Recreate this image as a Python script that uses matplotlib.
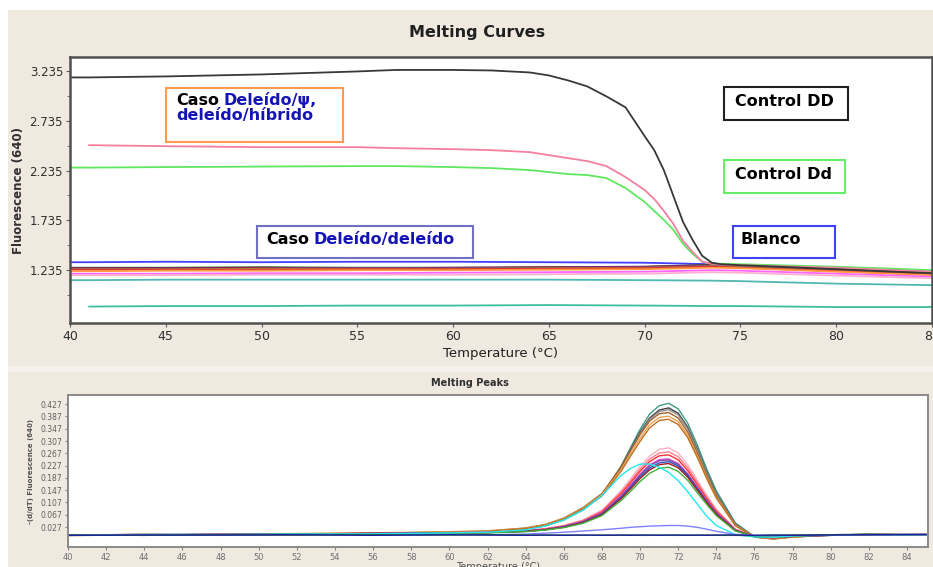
import numpy as np
import matplotlib
matplotlib.use("Agg")
import matplotlib.pyplot as plt
from matplotlib.patches import Rectangle
from matplotlib.offsetbox import TextArea, HPacker, VPacker, AnnotationBbox
from matplotlib.ticker import FixedLocator, MultipleLocator

W, H = 933, 567

# ---- Melting curves (top) ----
t_curve = [40, 41, 45, 50, 55, 57, 60, 62, 64, 65, 66, 67, 68, 69, 70, 70.5,
           71, 71.5, 72, 72.5, 73, 73.5, 74, 75, 77, 80, 83, 85]
ctrl_dd = [3.17, 3.17, 3.18, 3.20, 3.23, 3.245, 3.245, 3.24, 3.22, 3.19, 3.14, 3.08,
           2.98, 2.87, 2.58, 2.44, 2.24, 1.98, 1.72, 1.54, 1.38, 1.31, 1.295, 1.285,
           1.27, 1.245, 1.22, 1.205]
caso_hib = [np.nan, 2.49, 2.48, 2.47, 2.47, 2.46, 2.45, 2.44, 2.42, 2.39, 2.36, 2.33,
            2.28, 2.17, 2.04, 1.95, 1.83, 1.70, 1.53, 1.42, 1.32, 1.30, 1.29, 1.285,
            1.275, 1.26, 1.235, 1.22]
ctrl_dd_het = [2.265, 2.265, 2.27, 2.275, 2.28, 2.28, 2.27, 2.26, 2.24, 2.22, 2.20,
               2.19, 2.16, 2.06, 1.92, 1.83, 1.74, 1.64, 1.50, 1.40, 1.32, 1.30, 1.30,
               1.295, 1.285, 1.27, 1.25, 1.235]

t_flat = [40, 41, 45, 50, 55, 60, 65, 70, 73.5, 75, 80, 85]
flat_curves = {
    '#4040ff': [1.315, 1.315, 1.32, 1.315, 1.32, 1.32, 1.315, 1.31, 1.295, 1.285, 1.25, 1.23],
    '#2e6b2e': [1.26, 1.26, 1.26, 1.265, 1.26, 1.26, 1.265, 1.27, 1.29, 1.28, 1.245, 1.215],
    '#8b1a4a': [1.255, 1.255, 1.255, 1.26, 1.255, 1.26, 1.265, 1.27, 1.285, 1.275, 1.24, 1.205],
    '#7030a0': [1.25, 1.25, 1.25, 1.25, 1.255, 1.255, 1.26, 1.265, 1.28, 1.27, 1.235, 1.20],
    '#a08a30': [1.245, 1.245, 1.245, 1.25, 1.25, 1.25, 1.255, 1.26, 1.275, 1.265, 1.23, 1.195],
    '#e03030': [1.24, 1.24, 1.24, 1.24, 1.245, 1.245, 1.25, 1.255, 1.27, 1.26, 1.225, 1.19],
    '#ff9a40': [1.225, 1.225, 1.23, 1.23, 1.235, 1.235, 1.24, 1.245, 1.26, 1.255, 1.22, 1.185],
    '#ff66ff': [1.20, 1.20, 1.20, 1.205, 1.205, 1.21, 1.215, 1.22, 1.235, 1.23, 1.20, 1.17],
    '#ffb0d0': [1.185, 1.185, 1.185, 1.19, 1.19, 1.19, 1.195, 1.20, 1.215, 1.21, 1.18, 1.155],
    '#50b8b0': [1.135, 1.135, 1.14, 1.14, 1.14, 1.14, 1.14, 1.135, 1.13, 1.125, 1.10, 1.085],
    '#3cbf9e': [np.nan, 0.87, 0.875, 0.875, 0.88, 0.88, 0.885, 0.88, 0.875, 0.875, 0.865, 0.865],
}
curve_yticks = [1.235, 1.735, 2.235, 2.735, 3.235]

# ---- Melting peaks (bottom) ----
t_peak = [40, 44, 48, 52, 56, 60, 62, 64, 65, 66, 67, 68, 69, 69.5, 70, 70.5, 71,
          71.5, 72, 72.5, 73, 73.5, 74, 75, 76, 77, 78, 80, 82, 85]
peak_curves = {
    '#3c9c84': [0.000, 0.002, 0.004, 0.003, 0.006, 0.009, 0.012, 0.020, 0.030, 0.050, 0.082, 0.130, 0.225, 0.285, 0.345, 0.395, 0.422, 0.430, 0.412, 0.365, 0.295, 0.215, 0.145, 0.040, -0.004, -0.010, -0.004, 0.001, 0.003, 0.002],
    '#404040': [0.001, 0.001, 0.003, 0.005, 0.004, 0.010, 0.013, 0.022, 0.032, 0.052, 0.085, 0.132, 0.222, 0.280, 0.336, 0.382, 0.408, 0.415, 0.398, 0.352, 0.282, 0.205, 0.136, 0.036, -0.005, -0.011, -0.005, 0.000, 0.004, 0.001],
    '#909090': [0.002, 0.000, 0.002, 0.004, 0.006, 0.009, 0.012, 0.021, 0.031, 0.051, 0.084, 0.131, 0.220, 0.277, 0.332, 0.378, 0.403, 0.409, 0.392, 0.346, 0.277, 0.201, 0.133, 0.035, -0.004, -0.010, -0.005, 0.001, 0.002, 0.002],
    '#a0602a': [-0.001, 0.002, 0.002, 0.004, 0.007, 0.011, 0.014, 0.024, 0.035, 0.056, 0.090, 0.136, 0.222, 0.276, 0.328, 0.372, 0.396, 0.400, 0.382, 0.336, 0.268, 0.194, 0.128, 0.033, -0.006, -0.012, -0.004, 0.002, 0.001, 0.003],
    '#e8a050': [0.002, 0.000, 0.003, 0.006, 0.008, 0.012, 0.015, 0.023, 0.034, 0.055, 0.088, 0.132, 0.214, 0.266, 0.316, 0.360, 0.384, 0.388, 0.370, 0.326, 0.260, 0.188, 0.124, 0.032, -0.005, -0.012, -0.006, 0.001, 0.002, 0.002],
    '#c07020': [0.001, 0.003, 0.001, 0.005, 0.007, 0.010, 0.013, 0.022, 0.033, 0.053, 0.086, 0.128, 0.208, 0.258, 0.306, 0.350, 0.374, 0.378, 0.361, 0.318, 0.254, 0.184, 0.121, 0.031, -0.005, -0.011, -0.005, 0.000, 0.003, 0.001],
    '#ffb0c0': [0.001, 0.002, 0.004, 0.002, 0.006, 0.008, 0.010, 0.016, 0.022, 0.032, 0.050, 0.082, 0.145, 0.184, 0.225, 0.258, 0.280, 0.285, 0.268, 0.230, 0.180, 0.130, 0.085, 0.020, -0.004, -0.008, -0.003, 0.002, 0.003, 0.002],
    '#ff8090': [0.000, 0.003, 0.002, 0.004, 0.008, 0.007, 0.010, 0.015, 0.021, 0.031, 0.048, 0.079, 0.140, 0.177, 0.216, 0.248, 0.268, 0.272, 0.256, 0.220, 0.172, 0.124, 0.081, 0.019, -0.004, -0.008, -0.003, 0.001, 0.002, 0.003],
    '#ff3030': [0.002, 0.001, 0.003, 0.005, 0.003, 0.008, 0.009, 0.015, 0.020, 0.030, 0.046, 0.076, 0.135, 0.171, 0.209, 0.240, 0.259, 0.262, 0.246, 0.211, 0.165, 0.119, 0.078, 0.018, -0.004, -0.008, -0.004, 0.002, 0.001, 0.002],
    '#e060e0': [0.001, 0.000, 0.004, 0.003, 0.006, 0.009, 0.010, 0.014, 0.019, 0.029, 0.045, 0.073, 0.129, 0.164, 0.200, 0.230, 0.247, 0.249, 0.234, 0.201, 0.157, 0.113, 0.074, 0.017, -0.004, -0.007, -0.003, 0.001, 0.003, 0.001],
    '#8040a0': [0.000, 0.002, 0.003, 0.002, 0.005, 0.007, 0.009, 0.014, 0.019, 0.028, 0.044, 0.071, 0.126, 0.160, 0.196, 0.226, 0.243, 0.246, 0.231, 0.198, 0.154, 0.111, 0.072, 0.016, -0.004, -0.007, -0.003, 0.002, 0.002, 0.003],
    '#3050c0': [0.002, 0.001, 0.002, 0.004, 0.006, 0.008, 0.009, 0.013, 0.018, 0.027, 0.042, 0.069, 0.122, 0.155, 0.190, 0.219, 0.236, 0.240, 0.226, 0.194, 0.151, 0.109, 0.070, 0.016, -0.004, -0.007, -0.003, 0.000, 0.002, 0.002],
    '#a02020': [0.001, 0.003, 0.001, 0.003, 0.007, 0.006, 0.009, 0.013, 0.018, 0.026, 0.041, 0.067, 0.119, 0.151, 0.185, 0.213, 0.230, 0.234, 0.220, 0.189, 0.147, 0.106, 0.068, 0.015, -0.003, -0.007, -0.003, 0.001, 0.001, 0.002],
    '#40b040': [0.000, 0.002, 0.003, 0.004, 0.004, 0.007, 0.008, 0.012, 0.017, 0.025, 0.039, 0.064, 0.113, 0.143, 0.175, 0.202, 0.218, 0.222, 0.208, 0.179, 0.139, 0.100, 0.064, 0.014, -0.003, -0.007, -0.003, 0.002, 0.003, 0.001],
    '#20e8f0': [0.000, 0.003, 0.002, 0.004, 0.005, 0.008, 0.010, 0.018, 0.030, 0.050, 0.082, 0.130, 0.195, 0.218, 0.232, 0.232, 0.222, 0.205, 0.178, 0.142, 0.102, 0.062, 0.032, 0.002, -0.005, -0.006, -0.002, 0.001, 0.002, 0.000],
    '#8080ff': [0.000, 0.001, 0.000, 0.002, 0.001, 0.002, 0.002, 0.004, 0.007, 0.010, 0.014, 0.018, 0.023, 0.026, 0.028, 0.030, 0.031, 0.032, 0.032, 0.030, 0.026, 0.020, 0.013, 0.003, 0.000, -0.001, 0.000, 0.001, 0.002, 0.001],
    '#208020': [0.001, 0.000, 0.002, 0.001, 0.002, 0.001, 0.002, 0.001, 0.000, 0.001, 0.000, 0.001, 0.000, 0.001, 0.000, 0.000, 0.001, 0.000, 0.000, 0.001, 0.000, 0.001, 0.000, 0.000, -0.001, 0.000, 0.001, 0.002, 0.003, 0.002],
    '#2020a0': [0.000, 0.001, 0.001, 0.002, 0.000, 0.002, 0.001, 0.000, 0.001, 0.000, 0.001, 0.000, 0.001, 0.000, 0.001, 0.001, 0.000, 0.001, 0.001, 0.000, 0.001, 0.000, 0.001, 0.001, 0.000, 0.001, 0.000, 0.001, 0.002, 0.003],
}
peak_yticks = [0.027, 0.067, 0.107, 0.147, 0.187, 0.227, 0.267, 0.307, 0.347, 0.387, 0.427]


def fx(px):
    return px / W


def fy(py):
    return 1 - py / H


fig = plt.figure(figsize=(W / 100, H / 100), dpi=100, facecolor='white')

# beige panels like the LightCycler window
beige = '#efe9e0'
fig.add_artist(Rectangle((fx(8), fy(366)), 1, (366 - 10) / H, transform=fig.transFigure,
                         facecolor=beige, edgecolor='none', zorder=-10))
fig.add_artist(Rectangle((fx(8), fy(372)), 1, (372 - 366) / H, transform=fig.transFigure,
                         facecolor='#f5f1ea', edgecolor='none', zorder=-10))
fig.add_artist(Rectangle((fx(8), 0), 1, (567 - 372) / H, transform=fig.transFigure,
                         facecolor=beige, edgecolor='none', zorder=-10))

# ---------------- top axes ----------------
ax1 = fig.add_axes([fx(70), fy(323), (932 - 70) / W, (323 - 57) / H])
for c, vals in flat_curves.items():
    ax1.plot(t_flat, vals, color=c, lw=1.3)
ax1.plot(t_curve, ctrl_dd_het, color='#5fe85f', lw=1.3)
ax1.plot(t_curve, caso_hib, color='#f57f9f', lw=1.3)
ax1.plot(t_curve, ctrl_dd, color='#383838', lw=1.3)
ax1.set_xlim(40, 85)
ax1.set_ylim(0.705, 3.375)
ax1.xaxis.set_major_locator(MultipleLocator(5))
ax1.yaxis.set_major_locator(FixedLocator(curve_yticks))
ax1.yaxis.set_minor_locator(FixedLocator([0.985, 1.485, 1.985, 2.485, 2.985]))
ax1.set_yticklabels([f'{v:.3f}' for v in curve_yticks], fontsize=8.5, color='#303030')
ax1.set_xticks(range(40, 86, 5))
ax1.set_xticklabels([str(v) for v in range(40, 86, 5)], fontsize=9, color='#303030')
ax1.tick_params(axis='both', which='major', length=3, color='#606060', pad=2)
ax1.tick_params(axis='y', which='minor', length=2, color='#606060')
for s in ax1.spines.values():
    s.set_color('#505050')
    s.set_linewidth(1.8)
ax1.set_xlabel('Temperature (°C)', fontsize=9.5, color='#202020', labelpad=3)
ax1.set_ylabel('Fluorescence (640)', fontsize=8.5, fontweight='bold', color='#303030', labelpad=3)
fig.text(fx(477), fy(32), 'Melting Curves', ha='center', va='center', fontsize=11.5,
         fontweight='bold', color='#202020')

# ---------------- bottom axes ----------------
ax2 = fig.add_axes([fx(68), fy(547), (928 - 68) / W, (547 - 395) / H])
for c, vals in peak_curves.items():
    ax2.plot(t_peak, vals, color=c, lw=1.0)
ax2.set_xlim(40, 85.1)
ax2.set_ylim(-0.038, 0.457)
ax2.set_xticks(range(40, 85, 2))
ax2.set_xticklabels([str(v) for v in range(40, 85, 2)], fontsize=6, color='#707070')
ax2.yaxis.set_major_locator(FixedLocator(peak_yticks))
ax2.set_yticklabels([f'{v:.3f}' for v in peak_yticks], fontsize=5.5, color='#606060')
ax2.tick_params(axis='both', length=2.5, color='#808080', pad=1.5)
for s in ax2.spines.values():
    s.set_color('#8a8a8a')
    s.set_linewidth(1.4)
ax2.set_xlabel('Temperature (°C)', fontsize=7, color='#505050', labelpad=0)
ax2.set_ylabel('-(d/dT) Fluorescence (640)', fontsize=5, fontweight='bold', color='#505050', labelpad=5)
fig.text(fx(470), fy(383), 'Melting Peaks', ha='center', va='center', fontsize=7,
         fontweight='bold', color='#303030')

# ---------------- annotation boxes ----------------
BLUE = '#1414b4'


def label_box(x0, y0, x1, y1, edge, lines, tx, ty):
    fig.add_artist(Rectangle((fx(x0), fy(y1)), (x1 - x0) / W, (y1 - y0) / H,
                             transform=fig.transFigure, facecolor='white',
                             edgecolor=edge, lw=1.5, zorder=5))
    rows = []
    for line in lines:
        areas = [TextArea(s, textprops=dict(color=c, fontsize=11.5, fontweight='bold'))
                 for s, c in line]
        rows.append(HPacker(children=areas, align='baseline', pad=0, sep=3))
    box = VPacker(children=rows, align='left', pad=0, sep=0)
    ab = AnnotationBbox(box, (fx(tx), fy(ty)), xycoords='figure fraction',
                        box_alignment=(0, 1), frameon=False, pad=0, zorder=6)
    fig.add_artist(ab)


label_box(166, 88, 343, 142, '#ff9a50',
          [[('Caso', 'black'), ('Deleído/ψ,', BLUE)], [('deleído/híbrido', BLUE)]], 176, 92)
label_box(257, 226, 473, 258, '#7070c0',
          [[('Caso', 'black'), ('Deleído/deleído', BLUE)]], 266, 232)
label_box(724, 87, 848, 120, '#202020', [[('Control DD', 'black')]], 735, 94)
label_box(724, 160, 845, 193, '#66ee66', [[('Control Dd', 'black')]], 735, 167)
label_box(733, 226, 835, 258, '#4040ff', [[('Blanco', 'black')]], 741, 232)

fig.savefig('out.png', dpi=100, facecolor=fig.get_facecolor())
